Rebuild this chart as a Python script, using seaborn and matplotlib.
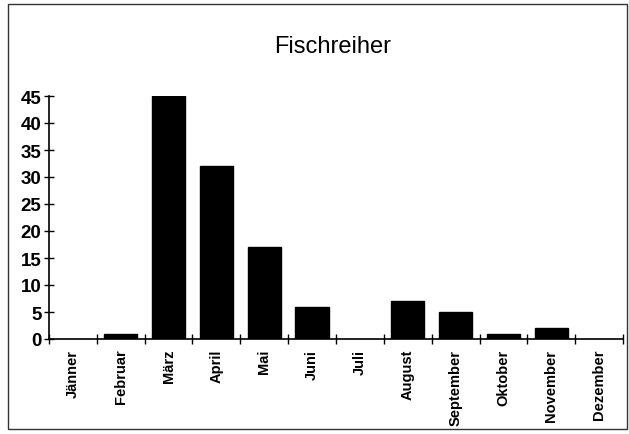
import matplotlib.pyplot as plt
import numpy as np
import seaborn as sns
from matplotlib.patches import Rectangle
from matplotlib.ticker import FixedLocator

months = ["Jänner", "Februar", "März", "April", "Mai", "Juni", "Juli",
          "August", "September", "Oktober", "November", "Dezember"]
counts = [0, 1, 45, 32, 17, 6, 0, 7, 5, 1, 2, 0]
y_ticks = [0, 5, 10, 15, 20, 25, 30, 35, 40, 45]

sns.set_style("white")
plt.rcParams["font.family"] = ["Liberation Sans", "DejaVu Sans"]
plt.rcParams["text.color"] = "black"
plt.rcParams["xtick.color"] = "black"
plt.rcParams["ytick.color"] = "black"

fig = plt.figure(figsize=(6.29, 4.35), dpi=100)
ax = fig.add_axes((49 / 629, 1 - 340 / 435, 574 / 629, 243 / 435))

sns.barplot(x=months, y=counts, color="black", width=0.7,
            saturation=1, ax=ax, edgecolor="black")

ax.set_ylim(0, 45)
ax.set_xlim(-0.5, len(months) - 0.5)
ax.set_yticks(y_ticks)
ax.tick_params(axis="y", direction="inout", length=7, width=1,
               labelsize=13.5, pad=2, left=True, colors="black")
for lab in ax.get_yticklabels():
    lab.set_fontweight("bold")

# category ticks sit between bars, like the old spreadsheet chart
ax.xaxis.set_minor_locator(FixedLocator(np.arange(-0.5, len(months), 1.0)))
ax.tick_params(axis="x", which="major", length=0, pad=7, colors="black")
ax.tick_params(axis="x", which="minor", direction="inout", length=7,
               width=1, bottom=True, colors="black")
ax.set_xticks(range(len(months)))
ax.set_xticklabels(months, rotation=90, fontsize=10.5, fontweight="bold",
                   va="top", ha="center", color="black")

for side in ["top", "right"]:
    ax.spines[side].set_visible(False)
for side in ["left", "bottom"]:
    ax.spines[side].set_color("black")
    ax.spines[side].set_linewidth(1.2)

ax.set_xlabel("")
ax.set_ylabel("")
fig.text(333 / 629, 1 - 47 / 435, "Fischreiher", fontsize=17,
         ha="center", va="center", color="black")

# outer frame of the chart object
fig.patches.append(Rectangle((8 / 629, 5 / 435), 619 / 629, 425 / 435,
                             transform=fig.transFigure, fill=False,
                             edgecolor="#333333", linewidth=1))

fig.savefig("out.png", dpi=100)
